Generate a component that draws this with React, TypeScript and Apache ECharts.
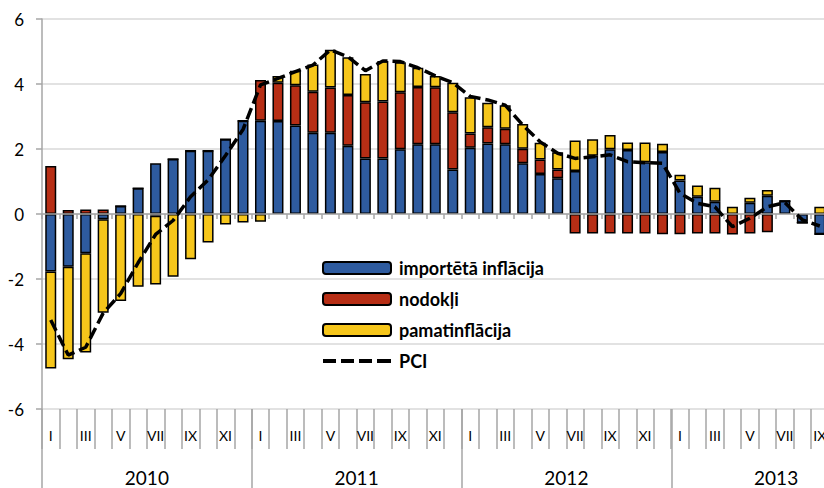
import React, { useEffect, useRef } from "react";
import * as echarts from "echarts";

const monthNames = ["I", "II", "III", "IV", "V", "VI", "VII", "VIII", "IX", "X", "XI", "XII"];
const years = ["2010", "2011", "2012", "2013"];
const seriesNames = ["importētā inflācija", "nodokļi", "pamatinflācija", "PCI"];

// Jan 2010 .. Sep 2013
const imported = [
  -1.77, -1.62, -1.21, -0.16, 0.25, 0.79, 1.56, 1.69, 1.95, 1.95, 2.3, 2.87,
  2.87, 2.86, 2.72, 2.5, 2.5, 2.1, 1.71, 1.71, 1.99, 2.15, 2.15, 1.37,
  2.04, 2.17, 2.15, 1.56, 1.23, 1.1, 1.32, 1.79, 1.99, 1.97, 1.59, 1.91,
  1.03, 0.53, 0.38, 0, 0.35, 0.56, 0.4, -0.27, -0.62,
];
const taxes = [
  1.48, 0.12, 0.14, 0.14, 0, 0, -0.05, 0, 0, 0, 0, 0,
  1.25, 1.18, 1.24, 1.26, 1.39, 1.56, 1.73, 1.75, 1.76, 1.76, 1.75, 1.76,
  0.44, 0.5, 0.47, 0.45, 0.45, 0.27, -0.6, -0.6, -0.6, -0.6, -0.6, -0.62,
  -0.62, -0.6, -0.6, -0.63, -0.6, -0.56, 0, 0, 0,
];
const core = [
  -2.98, -2.85, -3.05, -2.88, -2.68, -2.24, -2.12, -1.93, -1.39, -0.88, -0.32, -0.26,
  -0.24, 0.21, 0.45, 0.84, 1.16, 1.16, 0.87, 1.25, 0.92, 0.59, 0.35, 0.91,
  1.11, 0.75, 0.73, 0.76, 0.51, 0.53, 0.94, 0.51, 0.44, 0.23, 0.61, 0.25,
  0.18, 0.35, 0.43, 0.22, 0.15, 0.18, 0, 0, 0.22,
];
const pci = [
  -3.26, -4.34, -4.1, -3.05, -2.45, -1.5, -0.63, -0.2, 0.53, 1.05, 1.8, 2.6,
  3.97, 4.17, 4.38, 4.58, 5.05, 4.84, 4.41, 4.71, 4.69, 4.5, 4.25, 4.04,
  3.62, 3.51, 3.35, 2.74, 2.22, 1.87, 1.71, 1.76, 1.82, 1.61, 1.58, 1.56,
  0.64, 0.33, 0.22, -0.39, -0.13, 0.22, 0.35, -0.18, -0.37,
];

const colors = ["#2E5B9F", "#B72E15", "#F6C61B"];
const FONT = "Lato, 'Noto Sans', sans-serif";
const AXIS_GREY = "#a6a6a6";
const DASH_ICON = "path://M0,0h13v4H0zM18,0h13v4H18zM36,0h13v4H36zM54,0h14v4H54z";

export default function App() {
  const ref = useRef<HTMLDivElement>(null);

  useEffect(() => {
    if (!ref.current) return;
    const chart = echarts.init(ref.current, undefined, { renderer: "svg" });

    const monthCats = years.flatMap((y) => monthNames.map((m) => `${m} ${y}`));
    const yearSlots = Array.from({ length: years.length * 12 + 1 }, (_, i) => String(i));

    const barSeries = [imported, taxes, core].map((d, k) => ({
      name: seriesNames[k],
      type: "bar",
      stack: "total",
      xAxisIndex: 0,
      yAxisIndex: 0,
      barWidth: 11,
      data: d,
      itemStyle: { color: colors[k], borderColor: "#000", borderWidth: 1.5 },
      z: 2,
    }));

    chart.setOption({
      animation: false,
      backgroundColor: "#fff",
      textStyle: { fontFamily: FONT },
      grid: { left: 42, top: 19, bottom: 79, right: 0, containLabel: false },
      legend: {
        orient: "vertical",
        left: 317,
        top: 253,
        itemWidth: 68,
        itemHeight: 12,
        itemGap: 11,
        data: [
          { name: seriesNames[0] },
          { name: seriesNames[1] },
          { name: seriesNames[2] },
          { name: seriesNames[3], icon: DASH_ICON, itemStyle: { color: "#000", borderWidth: 0 } },
        ],
        textStyle: {
          fontFamily: FONT,
          fontSize: 18,
          fontWeight: "bold",
          color: "#000",
          lineHeight: 20,
          padding: [0, 0, 0, 3],
        },
      },
      xAxis: [
        {
          type: "category",
          data: monthCats,
          position: "bottom",
          axisLine: { show: true, onZero: true, lineStyle: { color: AXIS_GREY, width: 1.5 } },
          axisTick: { show: true, interval: 0, length: 5, lineStyle: { color: AXIS_GREY, width: 1.5 } },
          axisLabel: { show: false },
          splitLine: { show: false },
          z: 3,
        },
        {
          type: "category",
          data: monthCats,
          position: "bottom",
          axisLine: { show: false, onZero: false },
          axisTick: { show: true, interval: 0, length: 40, lineStyle: { color: AXIS_GREY, width: 1.5 } },
          axisLabel: {
            interval: (i: number) => i % 2 === 0,
            formatter: (v: string) => v.split(" ")[0],
            margin: 19,
            fontSize: 14,
            fontFamily: FONT,
            color: "#000",
          },
          splitLine: { show: false },
        },
        {
          type: "category",
          data: yearSlots,
          boundaryGap: false,
          position: "bottom",
          axisLine: { show: false, onZero: false },
          axisTick: {
            show: true,
            interval: (i: number) => i % 12 === 0,
            length: 79,
            lineStyle: { color: AXIS_GREY, width: 1.5 },
          },
          axisLabel: {
            interval: (i: number) => i % 12 === 6,
            formatter: (v: string) => {
              const i = Number(v);
              return i % 12 === 6 ? years[(i - 6) / 12] : "";
            },
            margin: 59,
            fontSize: 19,
            fontFamily: FONT,
            color: "#000",
          },
          splitLine: { show: false },
        },
      ],
      yAxis: {
        type: "value",
        min: -6,
        max: 6,
        interval: 2,
        axisLine: { show: true, lineStyle: { color: AXIS_GREY, width: 1.5 } },
        axisTick: { show: true, length: 6, lineStyle: { color: AXIS_GREY, width: 1.5 } },
        axisLabel: { fontSize: 17, fontFamily: FONT, color: "#000", margin: 18 },
        splitLine: { show: true, lineStyle: { color: "#d9d9d9", width: 1.5 } },
      },
      series: [
        ...barSeries,
        {
          name: seriesNames[3],
          type: "line",
          xAxisIndex: 0,
          yAxisIndex: 0,
          data: pci,
          symbol: "none",
          smooth: false,
          lineStyle: { color: "#000", width: 3.5, type: [12, 5] },
          itemStyle: { color: "#000" },
          z: 5,
        },
      ],
    });

    return () => chart.dispose();
  }, []);

  return (
    <div style={{ position: "absolute", left: 0, top: 0, width: 824, height: 488, overflow: "hidden" }}>
      <div ref={ref} style={{ width: 881, height: 488 }} />
    </div>
  );
}
